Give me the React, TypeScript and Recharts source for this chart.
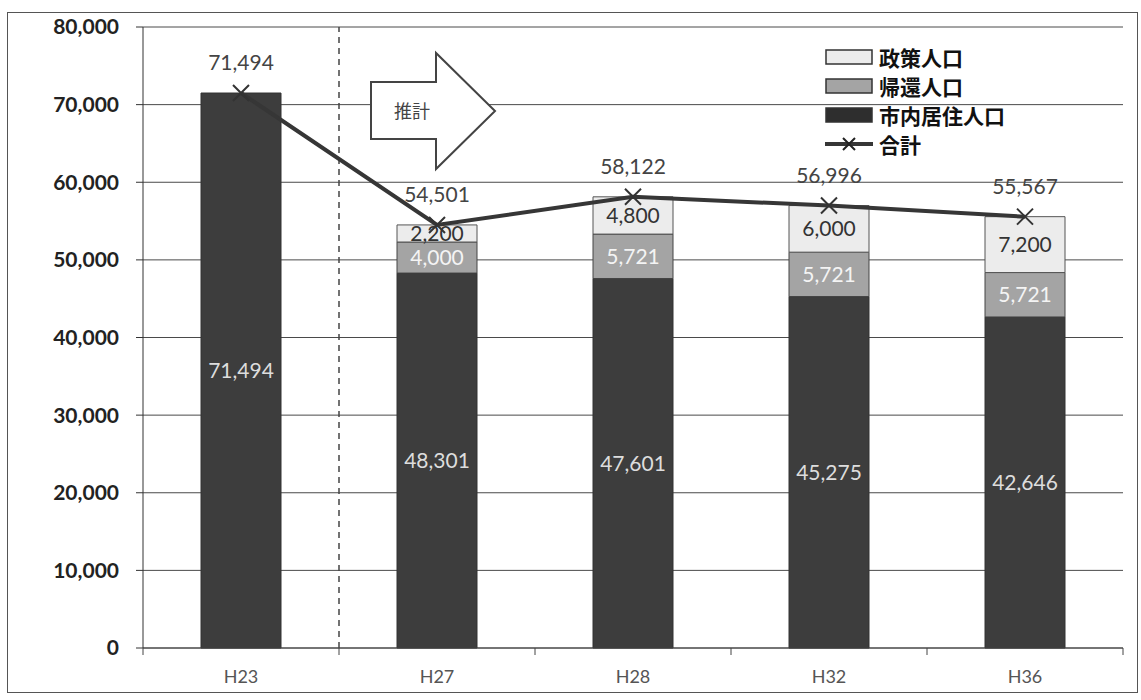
import React from 'react';
import {
  ComposedChart,
  Bar,
  Line,
  XAxis,
  YAxis,
  CartesianGrid,
  LabelList,
  ReferenceLine,
} from 'recharts';

// 年度ごとの人口（人）
const years = ['H23', 'H27', 'H28', 'H32', 'H36'];
const resident = [71494, 48301, 47601, 45275, 42646];
const returnees = [null, 4000, 5721, 5721, 5721];
const policy = [null, 2200, 4800, 6000, 7200];
const total = [71494, 54501, 58122, 56996, 55567];
const yTicks = [0, 10000, 20000, 30000, 40000, 50000, 60000, 70000, 80000];

const seriesNames = { policy: '政策人口', returnees: '帰還人口', resident: '市内居住人口', total: '合計' };

const data = years.map((y, i) => ({
  year: y,
  resident: resident[i],
  returnees: returnees[i],
  policy: policy[i],
  total: total[i],
}));

const W = 1141;
const H = 700;
const MARGIN = { top: 27, right: 18, left: 0, bottom: 12 };
const Y_AXIS_W = 143;
const BAND = (W - MARGIN.left - MARGIN.right - Y_AXIS_W) / years.length;

const FONT = 'Lato, "Noto Sans CJK JP", sans-serif';
const DARK = '#3d3d3d';
const MID = '#a4a4a4';
const LIGHT = '#ececec';
const LINE = '#363636';

const fmt = (v: any) => (v ? Number(v).toLocaleString('en-US') : '');

function XTick(props: any) {
  const { x, y, payload, index } = props;
  const left = x - BAND / 2;
  return (
    <g>
      <line x1={left} y1={y} x2={left} y2={y + 7} stroke="#444" />
      {index === years.length - 1 && (
        <line x1={x + BAND / 2} y1={y} x2={x + BAND / 2} y2={y + 7} stroke="#444" />
      )}
      <text x={x} y={y + 35} textAnchor="middle" fontSize={18} fill="#555" fontFamily={FONT}>
        {payload.value}
      </text>
    </g>
  );
}

function CrossDot(props: any) {
  const { cx, cy } = props;
  if (cx == null || cy == null) return null;
  const s = 8;
  return (
    <path
      d={`M${cx - s},${cy - s}L${cx + s},${cy + s}M${cx + s},${cy - s}L${cx - s},${cy + s}`}
      stroke="#333"
      strokeWidth={2}
      fill="none"
    />
  );
}

function LegendRow({ kind, label }: { kind: string; label: string }) {
  let icon: React.ReactNode;
  if (kind === 'total') {
    icon = (
      <svg width={48} height={16}>
        <line x1={0} y1={8} x2={48} y2={8} stroke={LINE} strokeWidth={4} />
        <path d="M18,2L30,14M30,2L18,14" stroke="#222" strokeWidth={2} />
      </svg>
    );
  } else {
    const fill = kind === 'policy' ? LIGHT : kind === 'returnees' ? MID : '#2e2e2e';
    icon = (
      <svg width={48} height={16}>
        <rect x={1} y={1} width={46} height={14} fill={fill} stroke="#333" strokeWidth={1.5} />
      </svg>
    );
  }
  return (
    <div style={{ display: 'flex', alignItems: 'center', height: 29 }}>
      {icon}
      <span style={{ marginLeft: 6, fontSize: 21, fontWeight: 700, color: '#111' }}>{label}</span>
    </div>
  );
}

export default function App() {
  return (
    <div style={{ position: 'absolute', left: 0, top: 0, width: W, height: H, background: '#fff', fontFamily: FONT }}>
      <ComposedChart width={W} height={H} data={data} margin={MARGIN}>
        <CartesianGrid vertical={false} stroke="#4a4a4a" strokeWidth={1} />
        <XAxis
          dataKey="year"
          height={40}
          axisLine={{ stroke: '#444' }}
          tickLine={false}
          tickSize={0}
          tickMargin={0}
          interval={0}
          tick={(p: any) => <XTick {...p} />}
        />
        <YAxis
          width={Y_AXIS_W}
          domain={[0, 80000]}
          ticks={yTicks}
          interval={0}
          tickSize={7}
          tickMargin={17}
          axisLine={{ stroke: '#333' }}
          tickLine={{ stroke: '#333' }}
          tickFormatter={(v: number) => v.toLocaleString('en-US')}
          tick={{ fontSize: 21, fontWeight: 700, fill: '#222', fontFamily: FONT }}
        />
        <ReferenceLine x="H27" position="start" stroke="#444" strokeDasharray="6 5" strokeWidth={1.5} />
        <Bar dataKey="resident" name={seriesNames.resident} stackId="a" fill={DARK} stroke="#333" barSize={80} isAnimationActive={false}>
          <LabelList dataKey="resident" position="center" formatter={fmt} fill="#ddd" fontSize={21} fontFamily={FONT} />
        </Bar>
        <Bar dataKey="returnees" name={seriesNames.returnees} stackId="a" fill={MID} stroke="#444" barSize={80} isAnimationActive={false}>
          <LabelList dataKey="returnees" position="center" formatter={fmt} fill="#f4f4f4" fontSize={21} fontFamily={FONT} />
        </Bar>
        <Bar dataKey="policy" name={seriesNames.policy} stackId="a" fill={LIGHT} stroke="#555" barSize={80} isAnimationActive={false}>
          <LabelList dataKey="policy" position="center" formatter={fmt} fill="#333" fontSize={21} fontFamily={FONT} />
        </Bar>
        <Line
          dataKey="total"
          name={seriesNames.total}
          stroke={LINE}
          strokeWidth={4}
          dot={(p: any) => <CrossDot key={p.index} {...p} />}
          activeDot={false}
          isAnimationActive={false}
        >
          <LabelList dataKey="total" position="top" offset={23} formatter={fmt} fill="#444" fontSize={21} fontFamily={FONT} />
        </Line>
      </ComposedChart>

      {/* 推計 arrow */}
      <svg style={{ position: 'absolute', left: 0, top: 0, pointerEvents: 'none' }} width={W} height={H}>
        <path
          d="M371,82 L436,82 L436,53 L495,111 L436,169 L436,139 L371,139 Z"
          fill="#fff"
          stroke="#444"
          strokeWidth={2}
        />
        <text x={412} y={118} textAnchor="middle" fontSize={18} fill="#444" fontFamily={FONT}>
          推計
        </text>
        <rect x={7.5} y={12.5} width={1130} height={680} fill="none" stroke="#555" strokeWidth={1} />
      </svg>

      <div style={{ position: 'absolute', left: 825, top: 42 }}>
        <LegendRow kind="policy" label={seriesNames.policy} />
        <LegendRow kind="returnees" label={seriesNames.returnees} />
        <LegendRow kind="resident" label={seriesNames.resident} />
        <LegendRow kind="total" label={seriesNames.total} />
      </div>
    </div>
  );
}
